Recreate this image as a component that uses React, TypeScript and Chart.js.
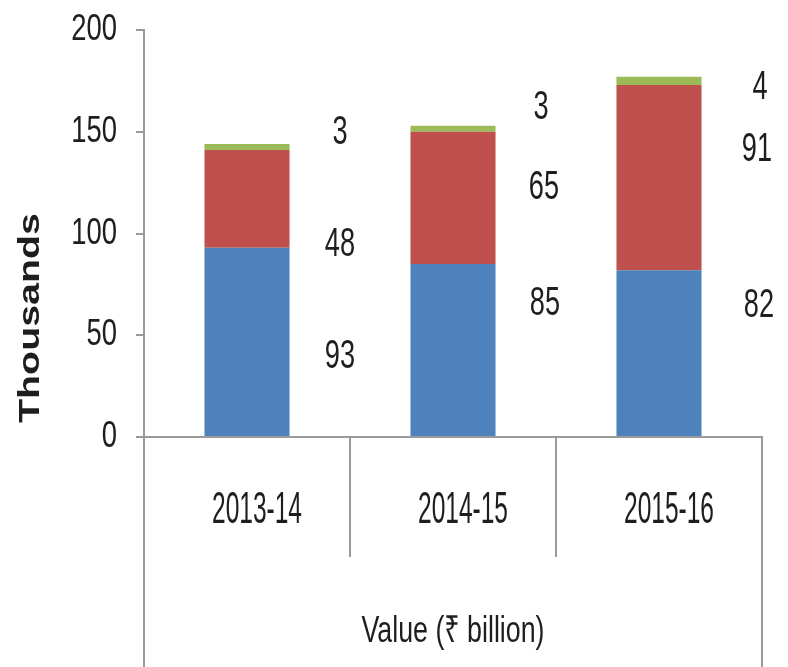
import React, { useEffect, useRef } from "react";
import { Chart, registerables } from "chart.js";

Chart.register(...registerables);

const categories = ["2013-14", "2014-15", "2015-16"];
const seriesBlue = [93, 85, 82];
const seriesRed = [48, 65, 91];
const seriesGreen = [3, 3, 4];
const yMin = 0;
const yMax = 200;
const yStep = 50;
const yTitle = "Thousands";
const xTitle = "Value (₹ billion)";

const FONT = "'Liberation Sans', 'Noto Sans', 'DejaVu Sans', sans-serif";
const TEXT = "#1e1e1e";
const LINE = "#9a9a9a";

function drawText(
  ctx: CanvasRenderingContext2D,
  text: string,
  x: number,
  y: number,
  o: { size: number; bold?: boolean; sx?: number; width?: number; align?: CanvasTextAlign; rotate?: number }
) {
  ctx.save();
  ctx.font = `${o.bold ? "bold " : ""}${o.size}px ${FONT}`;
  ctx.fillStyle = TEXT;
  ctx.translate(x, y);
  if (o.rotate) ctx.rotate(o.rotate);
  let sx = o.sx ?? 1;
  if (o.width) sx = o.width / ctx.measureText(text).width;
  ctx.scale(sx, 1);
  ctx.textAlign = o.align ?? "center";
  ctx.textBaseline = "middle";
  ctx.fillText(text, 0, 0);
  ctx.restore();
}

// pixel nudges of the value labels relative to each segment centre [dx, dy]
const labelNudge = [
  [[93, 15], [92, -46], [100, -47]],
  [[93, 46], [91, -10], [98, -28]],
  [[93, -14], [88, -21], [101, 7]],
];

const decorPlugin = {
  id: "decor",
  afterDraw(chart: any) {
    const ctx: CanvasRenderingContext2D = chart.ctx;
    const { left, right, bottom } = chart.chartArea;
    const xs = chart.scales.x;
    const ys = chart.scales.y;
    const H = chart.height;

    // y tick labels
    ys.ticks.forEach((t: any) => {
      const py = ys.getPixelForValue(t.value);
      drawText(ctx, String(t.value), left - 27, py, { size: 37, sx: 0.74, align: "right" });
    });

    // lines below the axis
    ctx.save();
    ctx.strokeStyle = LINE;
    ctx.lineWidth = 2;
    ctx.beginPath();
    ctx.moveTo(left, bottom);
    ctx.lineTo(left, H);
    ctx.moveTo(right, bottom);
    ctx.lineTo(right, H);
    for (let i = 0; i < categories.length - 1; i++) {
      const bx = Math.round((xs.getPixelForValue(i) + xs.getPixelForValue(i + 1)) / 2);
      ctx.moveTo(bx, bottom);
      ctx.lineTo(bx, bottom + 120);
    }
    ctx.stroke();
    ctx.restore();

    // category labels
    categories.forEach((c, i) => {
      drawText(ctx, c, xs.getPixelForValue(i) + 10, bottom + 74, { size: 44, width: 90 });
    });

    // x title
    drawText(ctx, xTitle, (left + right) / 2, bottom + 195, { size: 36, width: 183 });

    // y title
    drawText(ctx, yTitle, 31, 318, { size: 30, bold: true, width: 210, rotate: -Math.PI / 2 });

    // value labels
    chart.data.datasets.forEach((ds: any, di: number) => {
      const meta = chart.getDatasetMeta(di);
      meta.data.forEach((el: any, j: number) => {
        const cy = (el.y + el.base) / 2;
        const [dx, dy] = labelNudge[di][j];
        drawText(ctx, String(ds.data[j]), el.x + dx, cy + dy, { size: 40, sx: 0.68 });
      });
    });
  },
};

export default function App() {
  const ref = useRef<HTMLCanvasElement | null>(null);
  useEffect(() => {
    if (!ref.current) return;
    const chart = new Chart(ref.current, {
      type: "bar",
      data: {
        labels: categories,
        datasets: [
          { label: "Series 1", data: seriesBlue, backgroundColor: "#4F81BD" },
          { label: "Series 2", data: seriesRed, backgroundColor: "#C0504D" },
          { label: "Series 3", data: seriesGreen, backgroundColor: "#9BBB59" },
        ],
      },
      options: {
        responsive: false,
        animation: false,
        layout: { padding: { left: 136, right: 26, top: 30, bottom: 230 } },
        plugins: { legend: { display: false }, tooltip: { enabled: false } },
        datasets: { bar: { categoryPercentage: 1, barPercentage: 0.413 } },
        scales: {
          x: {
            stacked: true,
            ticks: { display: false },
            grid: { display: false },
            border: { display: true, color: LINE, width: 2 },
            afterFit: (s: any) => {
              s.height = 0;
            },
          },
          y: {
            stacked: true,
            min: yMin,
            max: yMax,
            ticks: { display: false, stepSize: yStep },
            grid: { display: true, drawOnChartArea: false, drawTicks: true, tickLength: 8, color: LINE, lineWidth: 2 },
            border: { display: true, color: LINE, width: 2 },
            afterFit: (s: any) => {
              s.width = 8;
            },
          },
        },
      },
      plugins: [decorPlugin],
    });
    return () => chart.destroy();
  }, []);
  return (
    <div style={{ position: "fixed", left: 0, top: 0, width: 788, height: 667, background: "#fff" }}>
      <canvas ref={ref} width={788} height={667} />
    </div>
  );
}
